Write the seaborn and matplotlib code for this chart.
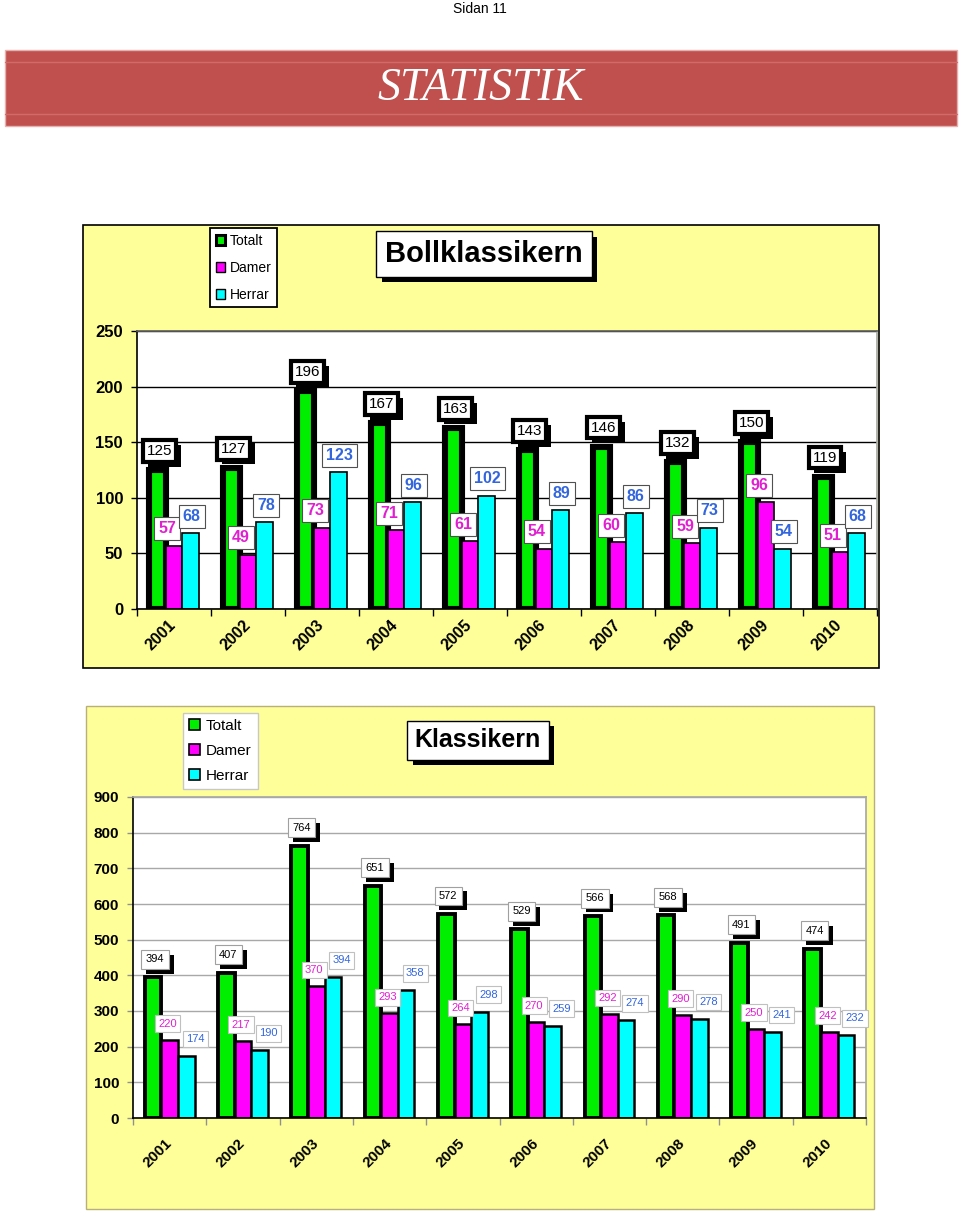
import numpy as np
import pandas as pd
import matplotlib
matplotlib.use("Agg")
import matplotlib.pyplot as plt
import matplotlib.patheffects as pe
from matplotlib.patches import Rectangle, Patch
from matplotlib.lines import Line2D
import seaborn as sns

# data
years = ["2001", "2002", "2003", "2004", "2005", "2006", "2007", "2008", "2009", "2010"]
series = ["Totalt", "Damer", "Herrar"]

boll_totalt = [125, 127, 196, 167, 163, 143, 146, 132, 150, 119]
boll_damer = [57, 49, 73, 71, 61, 54, 60, 59, 96, 51]
boll_herrar = [68, 78, 123, 96, 102, 89, 86, 73, 54, 68]

klas_totalt = [394, 407, 764, 651, 572, 529, 566, 568, 491, 474]
klas_damer = [220, 217, 370, 293, 264, 270, 292, 290, 250, 242]
klas_herrar = [174, 190, 394, 358, 298, 259, 274, 278, 241, 232]

bar_colors = ["#00EE00", "#FF00FF", "#00FFFF"]
text_colors = ["black", "#E020D0", "#3366DD"]
panel_yellow = "#FFFF99"

sns.set_theme(style="white")
plt.rcParams["font.family"] = ["Liberation Sans", "DejaVu Sans"]
plt.rcParams["text.color"] = "black"
plt.rcParams["xtick.color"] = "black"
plt.rcParams["ytick.color"] = "black"

W, H = 960, 1212
fig = plt.figure(figsize=(W / 100, H / 100), dpi=100)


def fx(x):
    return x / W


def fy(y):
    return 1 - y / H


def px_rect(x0, y0, x1, y1):
    return [fx(x0), fy(y1), (x1 - x0) / W, (y1 - y0) / H]


# page header
fig.text(0.5, fy(9), "Sidan 11", ha="center", va="center", fontsize=10)

fig.patches.append(Rectangle((fx(5), fy(126)), (957 - 5) / W, (126 - 50) / H,
                             transform=fig.transFigure, facecolor="#C0504D",
                             edgecolor="#E6B0AF", lw=1, zorder=-2))
for yy in [62, 114]:
    fig.lines.append(Line2D([fx(5), fx(957)], [fy(yy), fy(yy)], transform=fig.transFigure,
                            color="#D06B6A", lw=1, zorder=-1))
fig.text(fx(481), fy(89), "STATISTIK", ha="center", va="center", color="white",
         family="Liberation Serif", style="italic", fontsize=33)

# yellow panels
fig.patches.append(Rectangle((fx(83), fy(668)), (879 - 83) / W, (668 - 225) / H,
                             transform=fig.transFigure, facecolor=panel_yellow,
                             edgecolor="black", lw=1.2, zorder=-2))
fig.patches.append(Rectangle((fx(86), fy(1209)), (874 - 86) / W, (1209 - 706) / H,
                             transform=fig.transFigure, facecolor=panel_yellow,
                             edgecolor="#B8B07A", lw=1, zorder=-2))


def draw_chart(ax, totalt, damer, herrar, ymax, step, big):
    df = pd.DataFrame({
        "year": years * 3,
        "serie": np.repeat(series, len(years)),
        "value": totalt + damer + herrar,
    })
    sns.barplot(data=df, x="year", y="value", hue="serie", order=years, hue_order=series,
                palette=bar_colors, saturation=1, width=0.68, edgecolor="black",
                linewidth=1.2 if big else 1.8, legend=False, errorbar=None, ax=ax)

    for bar in ax.containers[0]:
        bar.set_linewidth(4.4 if big else 2.8)

    ax.set_facecolor("white")
    ax.set_xlim(-0.5, len(years) - 0.5)
    ax.set_ylim(0, ymax)
    ax.set_yticks(np.arange(0, ymax + 1, step))
    ax.set_xlabel("")
    ax.set_ylabel("")
    ax.set_axisbelow(True)
    ax.yaxis.grid(True, color="black" if big else "#A8A8A8", lw=1)

    ax.set_xticks(range(len(years)))
    ax.set_xticklabels(years, rotation=45, ha="right", va="center", rotation_mode="anchor",
                       fontweight="bold", fontsize=11.5 if big else 11)
    ax.set_xticks(np.arange(-0.5, len(years), 1), minor=True)
    ax.tick_params(axis="x", which="major", length=0, pad=10 if big else 17)
    ax.tick_params(axis="x", which="minor", bottom=True, length=5, width=1,
                   color="black" if big else "#909090", direction="out")
    ax.tick_params(axis="y", left=True, length=4, width=1, direction="out",
                   color="black" if big else "#909090", pad=6,
                   labelsize=12 if big else 11)
    for lab in ax.get_yticklabels():
        lab.set_fontweight("bold")

    for side in ["left", "bottom"]:
        ax.spines[side].set_color("black")
        ax.spines[side].set_linewidth(1.2)
    ax.spines["top"].set_color("#606060" if big else "#A8A8A8")
    ax.spines["right"].set_color("#A8A8A8")

    # value boxes
    if big:
        offsets = [(2, 19), (-7, 17), (1, 17)]
        sizes = [11, 11.5, 11.5]
        weights = ["normal", "bold", "bold"]
        edge = ["black", "#505050", "#505050"]
        pads = ["square,pad=0.25", "square,pad=0.25", "square,pad=0.25"]
        lws = [3, 0.8, 0.8]
    else:
        offsets = [(2, 18), (-2, 16), (9, 17)]
        sizes = [8, 8, 8]
        weights = ["normal", "normal", "normal"]
        edge = ["#A0A0A0", "#C0C0C0", "#C0C0C0"]
        pads = ["square,pad=0.4", "square,pad=0.3", "square,pad=0.3"]
        lws = [0.8, 0.8, 0.8]

    for i, cont in enumerate(ax.containers):
        for bar in cont:
            v = bar.get_height()
            xc = bar.get_x() + bar.get_width() / 2
            t = ax.annotate(f"{v:.0f}", xy=(xc, v), xytext=offsets[i], textcoords="offset pixels",
                            ha="center", va="center", fontsize=sizes[i], fontweight=weights[i],
                            color=text_colors[i], annotation_clip=False, zorder=5,
                            bbox=dict(boxstyle=pads[i], facecolor="white", edgecolor=edge[i],
                                      lw=lws[i]))
            if i == 0:
                t.get_bbox_patch().set_path_effects(
                    [pe.SimplePatchShadow(offset=(3.5, -3.5), shadow_rgbFace="black", alpha=1),
                     pe.Normal()])


# Bollklassikern
ax1 = fig.add_axes(px_rect(137, 331, 877, 609))
draw_chart(ax1, boll_totalt, boll_damer, boll_herrar, 250, 50, True)

# Klassikern
ax2 = fig.add_axes(px_rect(133, 797, 866, 1118))
draw_chart(ax2, klas_totalt, klas_damer, klas_herrar, 900, 100, False)

# titles
for x, y, txt, size in [(484, 254, "Bollklassikern", 21), (478, 740, "Klassikern", 18)]:
    t = fig.text(fx(x), fy(y), txt, ha="center", va="center", fontsize=size, fontweight="bold",
                 bbox=dict(boxstyle="square,pad=0.3", facecolor="white", edgecolor="black", lw=1))
    t.get_bbox_patch().set_path_effects(
        [pe.SimplePatchShadow(offset=(4, -4), shadow_rgbFace="black", alpha=1), pe.Normal()])

# legends
handles_top = [Patch(facecolor=bar_colors[0], edgecolor="black", lw=2.2, label="Totalt"),
               Patch(facecolor=bar_colors[1], edgecolor="black", lw=1, label="Damer"),
               Patch(facecolor=bar_colors[2], edgecolor="black", lw=1, label="Herrar")]
leg1 = fig.legend(handles=handles_top, loc="upper left", bbox_to_anchor=(fx(210), fy(228)),
                  frameon=True, fancybox=False, edgecolor="black", framealpha=1, fontsize=10,
                  handlelength=0.7, handleheight=0.7, handletextpad=0.3, labelspacing=0.95,
                  borderpad=0.4, borderaxespad=0)
leg1.get_frame().set_linewidth(1.3)

handles_bot = [Patch(facecolor=c, edgecolor="black", lw=1.2, label=s)
               for c, s in zip(bar_colors, series)]
leg2 = fig.legend(handles=handles_bot, loc="upper left", bbox_to_anchor=(fx(183), fy(713)),
                  frameon=True, fancybox=False, edgecolor="#C8C8C8", framealpha=1, fontsize=11,
                  handlelength=0.7, handleheight=0.7, handletextpad=0.4, labelspacing=0.72,
                  borderpad=0.4, borderaxespad=0)
leg2.get_frame().set_linewidth(1)

fig.savefig("out.png", dpi=100)
